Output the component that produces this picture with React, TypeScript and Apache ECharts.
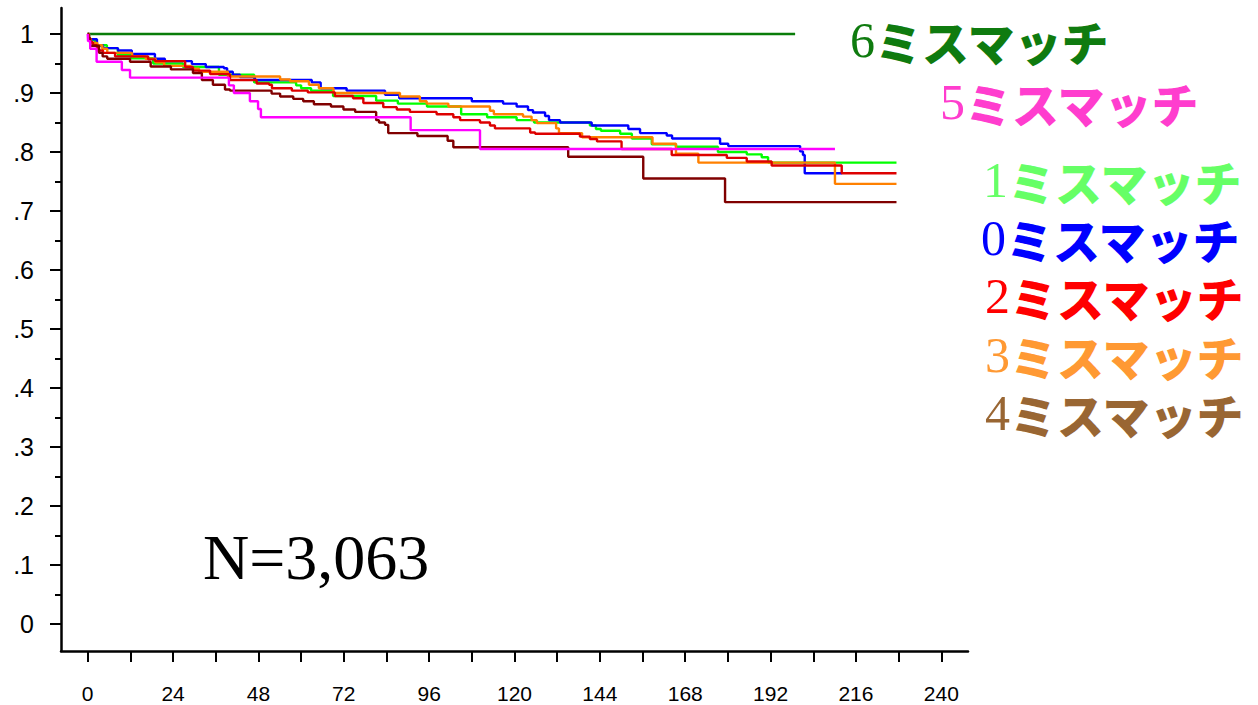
import React, { useEffect, useRef } from 'react';
import * as echarts from 'echarts';

// ---- data ----
const suffix = 'ミスマッチ';
const groupDigits = ['6', '5', '1', '0', '2', '3', '4'];

const xTickValues = [0, 24, 48, 72, 96, 120, 144, 168, 192, 216, 240];
const yTickLabels = ['0', '.1', '.2', '.3', '.4', '.5', '.6', '.7', '.8', '.9', '1'];

const mm0Time = [0, 0.4, 2.6, 4.3, 8.5, 12.4, 18.9, 21.7, 29.3, 33.2, 38.3, 39.2, 40.8, 42.8, 47.0, 63.0, 65.5, 72.8, 83.6, 87.6, 108.0, 116.8, 120.6, 123.8, 125.2, 128.6, 129.7, 132.8, 141.7, 152.0, 155.3, 162.8, 164.3, 177.8, 180.1, 200.3, 201.1, 201.6, 212.1];
const mm0Surv = [1, 0.991, 0.981, 0.976, 0.972, 0.966, 0.958, 0.954, 0.949, 0.944, 0.942, 0.936, 0.931, 0.927, 0.922, 0.918, 0.908, 0.904, 0.897, 0.891, 0.886, 0.882, 0.877, 0.871, 0.867, 0.861, 0.854, 0.85, 0.845, 0.839, 0.832, 0.828, 0.823, 0.814, 0.81, 0.801, 0.795, 0.764, 0.764];

const mm1Time = [0, 0.4, 2.1, 5.4, 8.5, 12.2, 18.4, 26.8, 36.9, 46.8, 58.6, 60.0, 62.8, 69.0, 81.1, 87.2, 95.4, 105.0, 112.3, 120.6, 125.5, 141.2, 142.9, 144.3, 149.7, 153.0, 158.6, 165.4, 177.2, 185.3, 189.5, 191.3, 227.4];
const mm1Surv = [1, 0.99, 0.981, 0.976, 0.964, 0.959, 0.95, 0.944, 0.931, 0.918, 0.913, 0.908, 0.904, 0.895, 0.887, 0.882, 0.877, 0.864, 0.859, 0.854, 0.85, 0.845, 0.839, 0.836, 0.831, 0.823, 0.813, 0.809, 0.8, 0.796, 0.791, 0.782, 0.782];

const mm2Time = [0, 0.2, 0.7, 1.5, 2.6, 4.3, 7.7, 17.0, 18.9, 27.4, 29.6, 34.4, 40.0, 47.5, 51.0, 51.8, 57.4, 61.9, 69.5, 74.6, 77.5, 83.1, 86.9, 90.6, 98.1, 102.8, 104.7, 110.3, 113.1, 114.5, 124.4, 125.8, 138.4, 141.2, 143.2, 150.1, 164.2, 179.7, 185.3, 192.3, 212.0, 227.4];
const mm2Surv = [1, 0.993, 0.986, 0.981, 0.972, 0.968, 0.962, 0.957, 0.954, 0.944, 0.938, 0.932, 0.922, 0.916, 0.914, 0.908, 0.904, 0.901, 0.895, 0.891, 0.883, 0.876, 0.872, 0.868, 0.864, 0.859, 0.854, 0.85, 0.845, 0.84, 0.833, 0.831, 0.826, 0.822, 0.818, 0.805, 0.795, 0.79, 0.784, 0.777, 0.764, 0.764];

const mm3Time = [0, 0.4, 0.9, 2.7, 4.1, 5.5, 12.5, 16.3, 19.1, 21.5, 29.0, 31.3, 39.4, 54.1, 56.9, 62.2, 65.0, 69.1, 87.8, 93.4, 95.3, 101.4, 113.1, 114.2, 122.4, 124.8, 126.3, 131.7, 132.5, 139.0, 158.8, 165.4, 171.7, 210.1, 227.4];
const mm3Surv = [1, 0.992, 0.985, 0.981, 0.975, 0.968, 0.962, 0.958, 0.952, 0.946, 0.941, 0.936, 0.928, 0.923, 0.92, 0.914, 0.908, 0.9, 0.894, 0.886, 0.882, 0.877, 0.87, 0.864, 0.86, 0.854, 0.849, 0.84, 0.832, 0.825, 0.814, 0.797, 0.782, 0.746, 0.746];

const mm4Time = [0, 0.2, 0.7, 3.2, 4.2, 5.5, 11.9, 17.7, 23.4, 29.6, 32.1, 35.2, 38.6, 40.0, 51.7, 54.1, 57.8, 60.6, 63.6, 68.4, 71.9, 75.2, 81.1, 81.9, 83.6, 84.5, 92.7, 101.2, 102.8, 135.1, 156.2, 179.2, 227.4];
const mm4Surv = [1, 0.993, 0.98, 0.968, 0.962, 0.958, 0.953, 0.945, 0.94, 0.934, 0.922, 0.914, 0.906, 0.904, 0.899, 0.894, 0.89, 0.886, 0.881, 0.877, 0.872, 0.868, 0.854, 0.85, 0.846, 0.832, 0.827, 0.819, 0.808, 0.792, 0.755, 0.715, 0.715];

const mm5Time = [0, 0.1, 0.7, 2.5, 9.6, 11.9, 39.7, 41.1, 45.6, 47.9, 48.7, 90.8, 110.3, 210.1];
const mm5Surv = [1, 0.988, 0.975, 0.953, 0.939, 0.926, 0.913, 0.9, 0.886, 0.873, 0.859, 0.837, 0.805, 0.805];

const mm6Time = [0, 198.9];
const mm6Surv = [1, 1];

const sampleSizeText = 'N=3,063';

// ---- styles ----
const lineColors: Record<string, string> = {
  '0': '#0000ff',
  '1': '#00ff00',
  '2': '#dd0000',
  '3': '#ff8000',
  '4': '#800000',
  '5': '#ff00ff',
  '6': '#0a7d0a',
};
const labelColors: Record<string, string> = {
  '6': '#0f7b0f',
  '5': '#ff3dce',
  '1': '#66ff66',
  '0': '#0000ff',
  '2': '#ff0000',
  '3': '#ff9933',
  '4': '#996633',
};
const labelPos: Record<string, [number, number]> = {
  '6': [850, 40],
  '5': [940, 102],
  '1': [983, 180],
  '0': [981, 238],
  '2': [985, 296],
  '3': [985, 355],
  '4': [985, 413],
};

const seriesSpec: [string, number[], number[]][] = [
  ['6', mm6Time, mm6Surv],
  ['1', mm1Time, mm1Surv],
  ['0', mm0Time, mm0Surv],
  ['3', mm3Time, mm3Surv],
  ['2', mm2Time, mm2Surv],
  ['4', mm4Time, mm4Surv],
  ['5', mm5Time, mm5Surv],
];

export default function App() {
  const ref = useRef<HTMLDivElement>(null);
  useEffect(() => {
    if (!ref.current) return;
    const chart = echarts.init(ref.current, undefined, { renderer: 'svg' });
    const black = '#000';
    const hidden = {
      axisLine: { show: false }, axisTick: { show: false },
      axisLabel: { show: false }, splitLine: { show: false },
    };
    const option: any = {
      animation: false,
      backgroundColor: '#fff',
      grid: [
        // 0: frame (axis lines)
        { left: 61, top: 8, width: 907, height: 643 },
        // 1: data area
        { left: 87.7, top: 34, width: 853.6, height: 590 },
        // 2: x ticks (bottom edge at the frame's x-axis line)
        { left: 87.7, top: 34, width: 853.6, height: 617 },
        // 3: y ticks (left edge at the frame's y-axis line)
        { left: 61, top: 34, width: 880.3, height: 590 },
      ],
      xAxis: [
        {
          gridIndex: 0, type: 'value', min: 0, max: 1,
          axisLine: { show: true, lineStyle: { color: black, width: 2.5 } },
          axisTick: { show: false }, axisLabel: { show: false }, splitLine: { show: false },
        },
        { gridIndex: 1, type: 'value', min: 0, max: 240, ...hidden },
        {
          gridIndex: 2, type: 'value', min: 0, max: 240, interval: 12,
          axisLine: { show: false },
          axisTick: { show: true, length: 11, lineStyle: { color: black, width: 2 } },
          splitLine: { show: false },
          axisLabel: {
            margin: 32, color: black, fontSize: 21, lineHeight: 21,
            fontFamily: '"Liberation Sans", Arial, sans-serif',
            formatter: (v: number) => (xTickValues.indexOf(v) >= 0 ? String(v) : ''),
          },
        },
        { gridIndex: 3, type: 'value', min: 0, max: 1, ...hidden },
      ],
      yAxis: [
        {
          gridIndex: 0, type: 'value', min: 0, max: 1,
          axisLine: { show: true, lineStyle: { color: black, width: 2.5 } },
          axisTick: { show: false }, axisLabel: { show: false }, splitLine: { show: false },
        },
        { gridIndex: 1, type: 'value', min: 0, max: 1, ...hidden },
        { gridIndex: 2, type: 'value', min: 0, max: 1, ...hidden },
        {
          gridIndex: 3, type: 'value', min: 0, max: 1, interval: 0.1,
          axisLine: { show: false },
          axisTick: { show: true, length: 11, lineStyle: { color: black, width: 2 } },
          minorTick: { show: true, splitNumber: 2, length: 6, lineStyle: { color: black, width: 2 } },
          splitLine: { show: false },
          minorSplitLine: { show: false },
          axisLabel: {
            margin: 27, color: black, fontSize: 25,
            fontFamily: '"Liberation Sans Narrow", "Liberation Sans", Arial, sans-serif',
            formatter: (v: number) => yTickLabels[Math.round(v * 10)] ?? '',
          },
        },
      ],
      series: seriesSpec.map(([d, t, s]) => ({
        name: d + suffix,
        type: 'line',
        xAxisIndex: 1,
        yAxisIndex: 1,
        step: 'end',
        symbol: 'none',
        showSymbol: false,
        clip: false,
        lineStyle: { color: lineColors[d], width: 2.4 },
        data: t.map((tt, i) => [tt, s[i]]),
      })),
      graphic: [
        ...groupDigits.map((d) => ({
          type: 'text',
          x: labelPos[d][0],
          y: labelPos[d][1],
          silent: true,
          style: {
            text: `{d|${d}}{k|${suffix}}`,
            verticalAlign: 'middle',
            rich: {
              d: { fontFamily: '"Liberation Serif", serif', fontSize: 50, lineHeight: 44, fill: labelColors[d] },
              k: { fontFamily: '"Noto Sans CJK JP", sans-serif', fontWeight: 900, fontSize: 47, lineHeight: 44, fill: labelColors[d] },
            },
          },
        })),
        {
          type: 'text',
          x: 203,
          y: 557,
          silent: true,
          style: {
            text: sampleSizeText,
            fontFamily: '"Liberation Serif", serif',
            fontSize: 64,
            fill: black,
            verticalAlign: 'middle',
          },
        },
      ],
    };
    chart.setOption(option);
    return () => chart.dispose();
  }, []);
  return (
    <div
      ref={ref}
      style={{ position: 'absolute', left: 0, top: 0, width: 1258, height: 705 }}
    />
  );
}
